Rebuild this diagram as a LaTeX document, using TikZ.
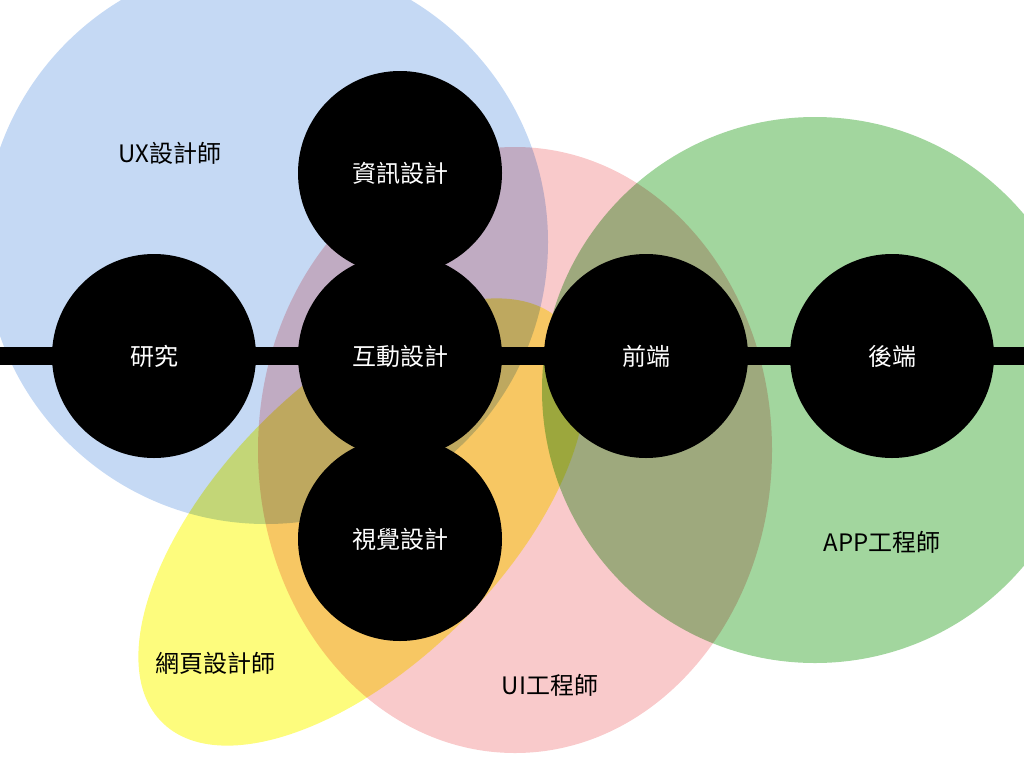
\documentclass[tikz,border=0pt]{standalone}
\usepackage{fontspec}
\setmainfont{Noto Sans CJK TC}
\definecolor{uxblue}{HTML}{C5D9F4}
\definecolor{uipink}{HTML}{F9CACB}
\definecolor{appgreen}{HTML}{A2D69E}
\definecolor{webyellow}{HTML}{FDFC7D}

\begin{document}
\begin{tikzpicture}[x=1pt,y=-1pt,
    every node/.style={font=\fontsize{24}{28}\selectfont},
    skill/.style={circle,fill=black,text=white,minimum size=204pt,inner sep=0pt},
    role/.style={text=black,inner sep=0pt},
    spine/.style={line width=18pt,shorten <=-3pt,shorten >=-3pt}]
\useasboundingbox (0,0) rectangle (1024,768);
\clip (0,0) rectangle (1024,768);

% role areas
\begin{scope}[blend mode=multiply]
\fill[uxblue] (266,242) circle [radius=282];
\fill[uipink] (515,450) ellipse [x radius=257,y radius=303];
\fill[appgreen] (815,390) circle [radius=273];
\fill[webyellow,rotate around={45:(362,522)}] (362,522) ellipse [x radius=283,y radius=141];
\end{scope}

\node[role] (uxLabel) at (170,153) {UX設計師};
\node[role] (webLabel) at (215,663) {網頁設計師};
\node[role] (uiLabel) at (550,685) {UI工程師};
\node[role] (appLabel) at (882,542) {APP工程師};

% skills
\coordinate (westEnd) at (0,356);
\coordinate (eastEnd) at (1024,356);
\node[skill] (research) at (154,356) {研究};
\node[skill] (interaction) at (400,356) {互動設計};
\node[skill] (infoDesign) at (400,173) {資訊設計};
\node[skill] (visual) at (400,539) {視覺設計};
\node[skill] (frontend) at (646,356) {前端};
\node[skill] (backend) at (892,356) {後端};
\draw[spine] (westEnd) -- (research);
\draw[spine] (research) -- (interaction);
\draw[spine] (interaction) -- (frontend);
\draw[spine] (frontend) -- (backend);
\draw[spine] (backend) -- (eastEnd);
\end{tikzpicture}
\end{document}
